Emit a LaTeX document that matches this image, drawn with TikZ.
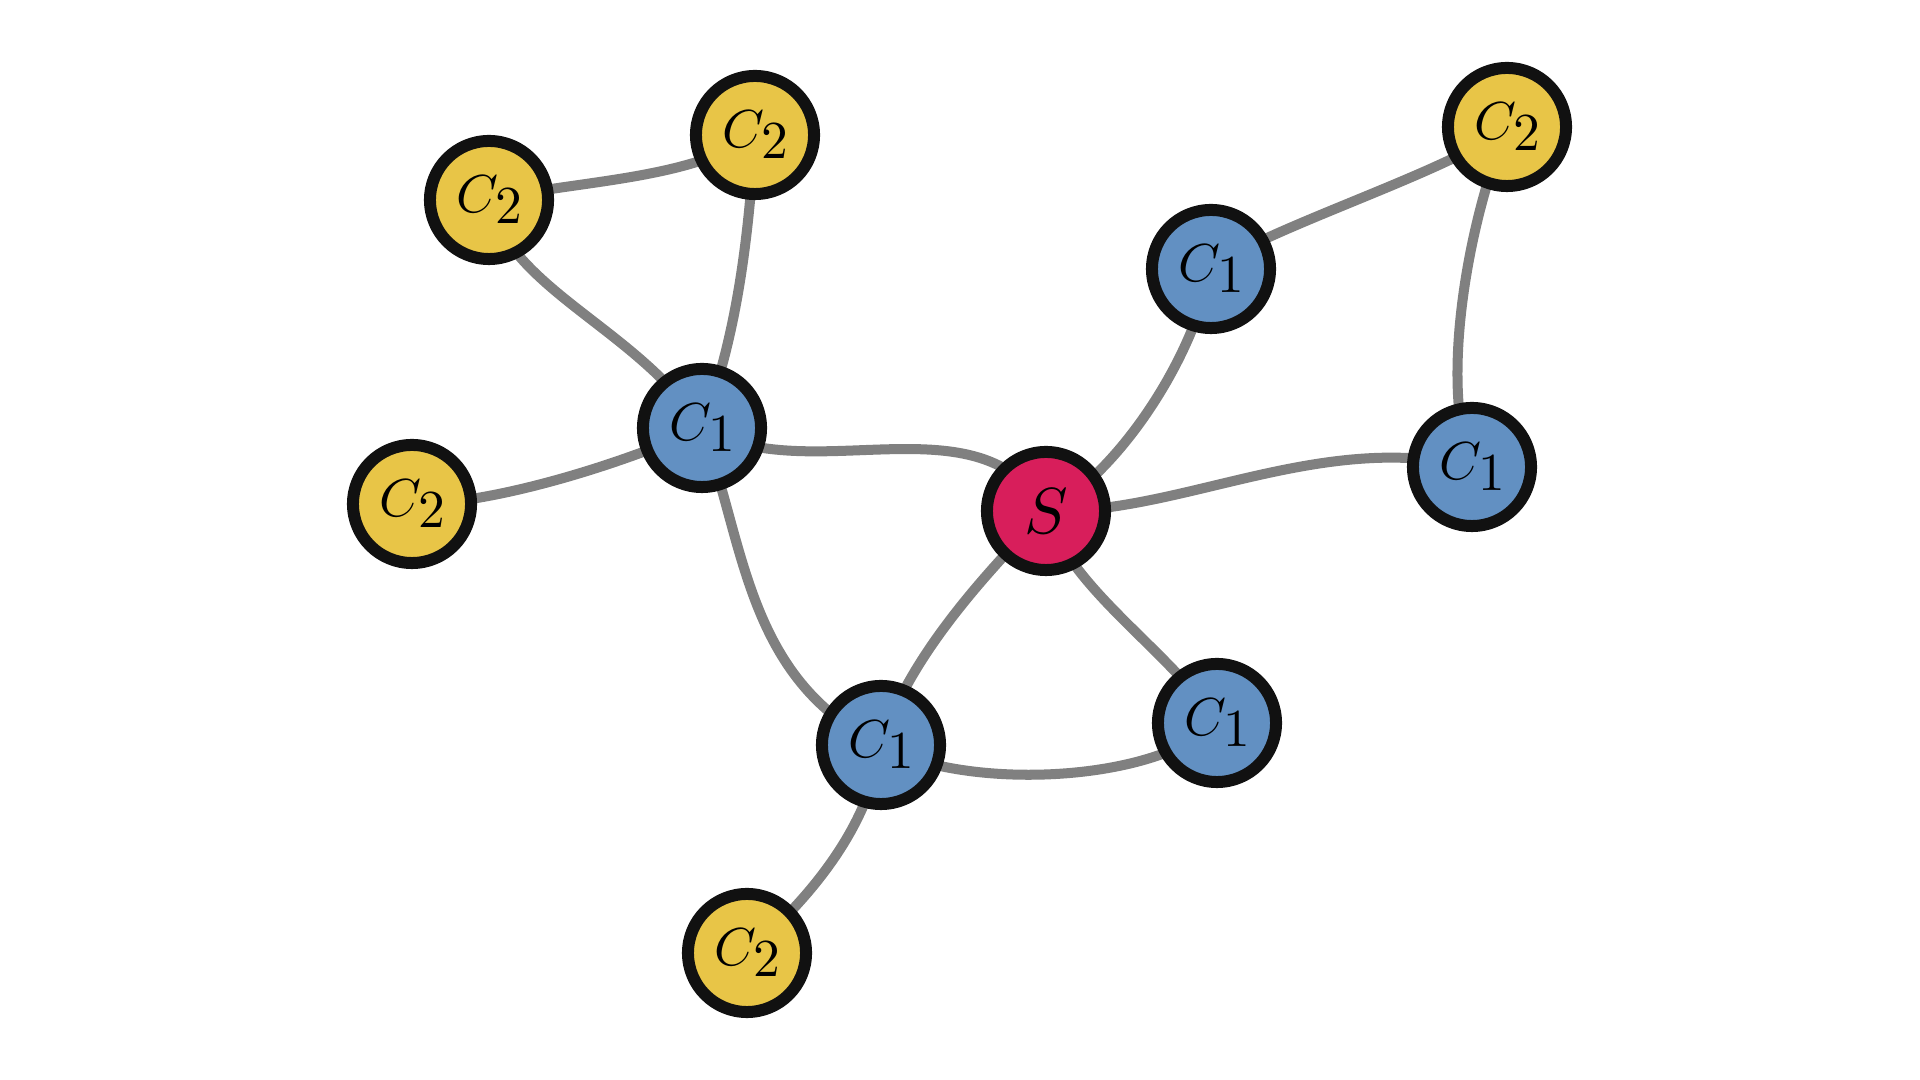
\documentclass[tikz,border=0pt]{standalone}
\usepackage{graphicx}
\usetikzlibrary{backgrounds}
\definecolor{cblue}{HTML}{6290C2}
\definecolor{cyellow}{HTML}{E8C547}
\definecolor{cred}{HTML}{D81E5B}
\definecolor{cborder}{HTML}{111111}
\definecolor{cedge}{HTML}{808080}
\newcommand{\clab}[1]{\scalebox{1.52}{$C\mkern-1mu\lower2.05pt\hbox{$#1$}$}}
\newcommand{\slab}{\scalebox{1.85}{$S$}}
\tikzset{
  vtx/.style={circle, draw=cborder, line width=0.12cm, minimum size=1.18cm, inner sep=0pt},
  cone/.style={vtx, fill=cblue},
  ctwo/.style={vtx, fill=cyellow},
  sv/.style={vtx, fill=cred},
  edge/.style={draw=cedge, line width=0.1cm}
}
\begin{document}
\begin{tikzpicture}[x=0.01cm, y=-0.01cm]
\useasboundingbox (0,0) rectangle (1920,1080);
\node[sv]   (S)    at (1046,511) {\slab};
\node[cone] (C1a)  at (702,428)  {\clab{1}};
\node[ctwo] (C2tl) at (489,200)  {\clab{2}};
\node[ctwo] (C2t)  at (755,135)  {\clab{2}};
\node[ctwo] (C2l)  at (412,504)  {\clab{2}};
\node[cone] (C1b)  at (881,745)  {\clab{1}};
\node[ctwo] (C2b)  at (747,953)  {\clab{2}};
\node[cone] (C1rb) at (1217,723) {\clab{1}};
\node[cone] (C1tr) at (1211,269) {\clab{1}};
\node[ctwo] (C2tr) at (1507,127) {\clab{2}};
\node[cone] (C1r)  at (1472,467) {\clab{1}};
\begin{pgfonlayer}{background}
\draw[edge] (C2tl.center) .. controls (580,180) and (690,180) .. (C2t.center);
\draw[edge] (C2tl.center) .. controls (510,290) and (640,330) .. (C1a.center);
\draw[edge] (C2t.center) .. controls (748,250) and (735,340) .. (C1a.center);
\draw[edge] (C2l.center) .. controls (490,505) and (620,465) .. (C1a.center);
\draw[edge] (C1a.center) .. controls (810,490) and (980,395) .. (S.center);
\draw[edge] (C1a.center) .. controls (745,540) and (745,680) .. (C1b.center);
\draw[edge] (S.center) .. controls (1000,560) and (910,650) .. (C1b.center);
\draw[edge] (S.center) .. controls (1070,590) and (1170,650) .. (C1rb.center);
\draw[edge] (S.center) .. controls (1110,480) and (1190,370) .. (C1tr.center);
\draw[edge] (S.center) .. controls (1180,515) and (1320,430) .. (C1r.center);
\draw[edge] (C1tr.center) .. controls (1260,230) and (1455,170) .. (C2tr.center);
\draw[edge] (C2tr.center) .. controls (1465,230) and (1440,390) .. (C1r.center);
\draw[edge] (C1b.center) .. controls (960,790) and (1150,785) .. (C1rb.center);
\draw[edge] (C1b.center) .. controls (870,820) and (820,890) .. (C2b.center);
\end{pgfonlayer}
\end{tikzpicture}
\end{document}
